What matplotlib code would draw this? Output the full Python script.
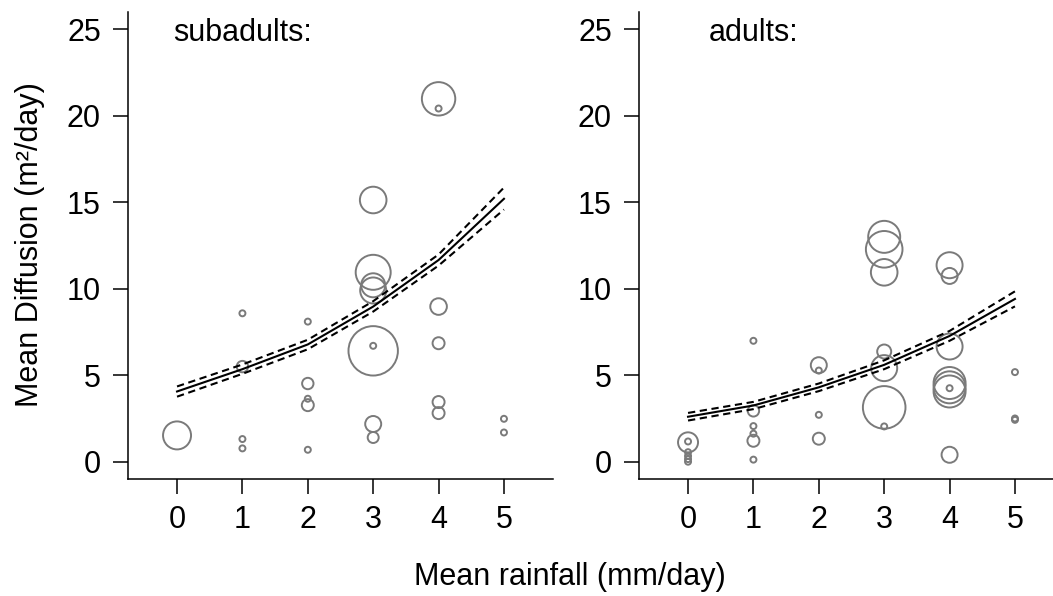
import matplotlib
matplotlib.use("Agg")
import matplotlib.pyplot as plt
import numpy as np

plt.rcParams['font.family'] = ['Liberation Sans', 'DejaVu Sans']

# ---- data ----
sub_x = [0, 1, 1, 1, 1, 2, 2, 2, 2, 2, 3, 3, 3, 3, 3, 3, 3, 3, 4, 4, 4, 4, 4, 4, 5, 5]
sub_y = [1.52, 8.58, 5.50, 1.31, 0.77, 8.10, 4.52, 3.64, 3.27, 0.69,
         15.13, 10.95, 10.2, 9.9, 6.41, 6.70, 2.18, 1.40,
         20.98, 20.42, 8.97, 6.85, 3.45, 2.81, 2.48, 1.69]
sub_r = [14, 3, 5.7, 3, 3, 3, 5.7, 3, 6, 3,
         13.3, 17.5, 12, 13, 24.7, 3, 8, 5.5,
         16.7, 3, 8.3, 6, 6, 6, 3, 3]

ad_x = [0, 0, 0, 0, 0, 0, 1, 1, 1, 1, 1, 1, 2, 2, 2, 2,
        3, 3, 3, 3, 3, 3, 3, 4, 4, 4, 4, 4, 4, 4, 4, 5, 5, 5]
ad_y = [1.12, 1.17, 0.55, 0.33, 0.15, 0.0,
        6.99, 2.94, 2.06, 1.62, 1.21, 0.12,
        5.58, 5.27, 2.71, 1.33,
        13.0, 12.28, 10.95, 6.37, 5.41, 3.14, 2.04,
        11.36, 10.74, 6.66, 4.55, 4.3, 4.06, 4.25, 0.40,
        5.18, 2.42, 2.50]
ad_r = [10, 3, 3, 3, 3, 3,
        3, 5.7, 3, 3, 6, 3,
        8, 3, 3, 6,
        16, 18.3, 13.3, 7, 13, 21.3, 3,
        13, 8, 13, 16, 16, 16, 3, 8,
        3, 3, 3]

fit_x = [0, 1, 2, 3, 4, 5]
sub_fit = [4.06, 5.35, 6.78, 8.97, 11.66, 15.2]
sub_up = [4.35, 5.62, 7.05, 9.28, 11.98, 15.85]
sub_lo = [3.76, 5.08, 6.50, 8.68, 11.34, 14.58]
ad_fit = [2.60, 3.25, 4.30, 5.60, 7.27, 9.41]
ad_up = [2.82, 3.46, 4.52, 5.86, 7.56, 9.85]
ad_lo = [2.38, 3.04, 4.08, 5.35, 6.99, 8.98]

xticks = [0, 1, 2, 3, 4, 5]
yticks = [0, 5, 10, 15, 20, 25]

W, H = 1053, 596
fig = plt.figure(figsize=(W / 100, H / 100), dpi=100)

FS = 22
circ_col = '#7a7a7a'


def panel(left_px, xs, ys, rs, fit, up, lo, title):
    ax = fig.add_axes([left_px / W, (H - 479) / H, 425 / W, 467 / H])
    s = [(2 * r * 0.72) ** 2 for r in rs]
    ax.scatter(xs, ys, s=s, facecolors='none', edgecolors=circ_col,
               linewidths=1.4, zorder=2)
    ax.plot(fit_x, fit, color='black', lw=1.5, zorder=3)
    ax.plot(fit_x, up, color='black', lw=1.5, ls=(0, (3.5, 2.2)), zorder=3)
    ax.plot(fit_x, lo, color='black', lw=1.5, ls=(0, (3.5, 2.2)), zorder=3)
    ax.set_xlim(-0.75, 5.75)
    ax.set_ylim(-1, 26)
    ax.set_xticks(xticks)
    ax.set_yticks(yticks)
    for sp in ['top', 'right']:
        ax.spines[sp].set_visible(False)
    for sp in ['left', 'bottom']:
        ax.spines[sp].set_linewidth(1.1)
    ax.tick_params(axis='both', direction='out', length=10.5, width=1.1,
                   labelsize=FS, pad=9)
    ax.tick_params(axis='x', pad=8)
    ax.text(1, 24.3, title, ha='center', va='baseline', fontsize=FS)
    return ax


panel(128, sub_x, sub_y, sub_r, sub_fit, sub_up, sub_lo, 'subadults:')
panel(639, ad_x, ad_y, ad_r, ad_fit, ad_up, ad_lo, 'adults:')

fig.text(30 / W, 1 - 245 / H, 'Mean Diffusion (m²/day)', rotation=90,
         ha='center', va='center', fontsize=FS)
fig.text(570 / W, 1 - 577 / H, 'Mean rainfall (mm/day)', ha='center',
         va='center', fontsize=FS)

fig.savefig('out.png', dpi=100)
